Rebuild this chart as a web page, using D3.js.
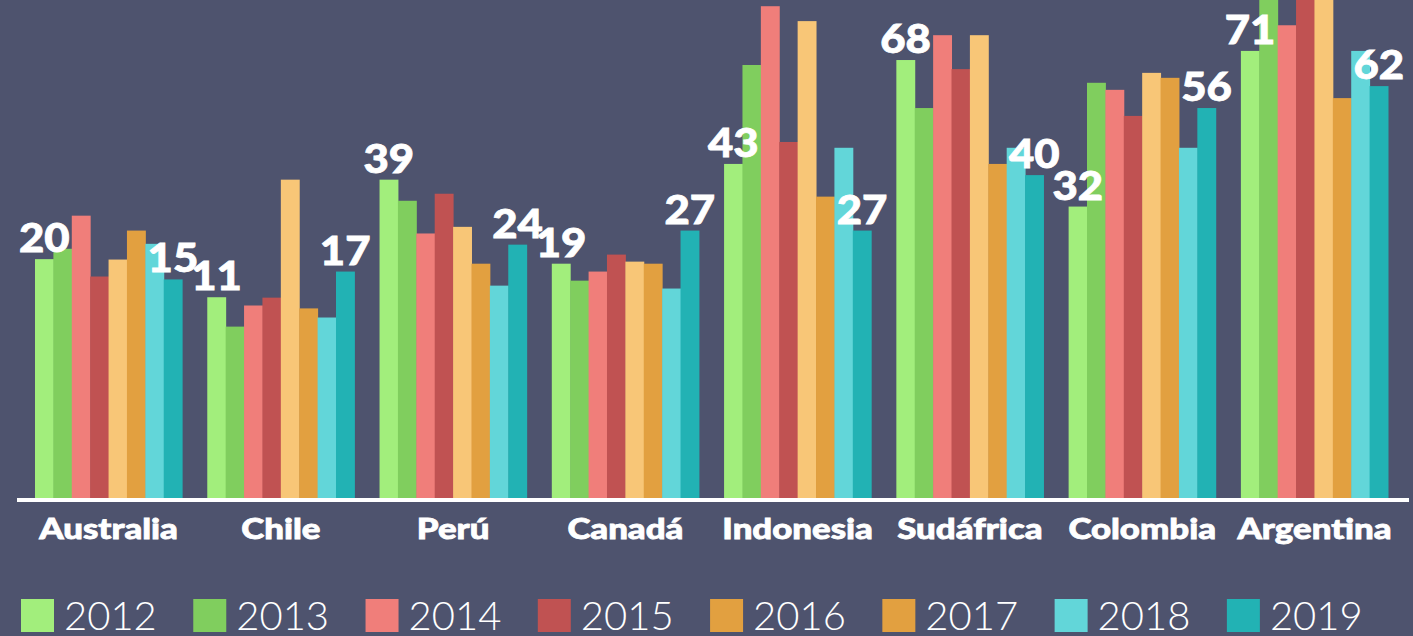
<!DOCTYPE html>
<html>
<head>
<meta charset="utf-8">
<script src="https://cdn.jsdelivr.net/npm/d3@7"></script>
<style>
  html, body { margin: 0; padding: 0; background: #4e536e; overflow: hidden; }
  svg { display: block; }
</style>
</head>
<body>
<script>
//// DATA

const countries = ["Australia", "Chile", "Perú", "Canadá", "Indonesia", "Sudáfrica", "Colombia", "Argentina"]
const years = ["2012", "2013", "2014", "2015", "2016", "2017", "2018", "2019"]

// bar heights, one array per country (2012..2019)
const australia = [20, 22.5, 30.5, 15.8, 19.9, 26.9, 23.7, 15.1]
const chile     = [10.8, 3.7, 8.8, 10.7, 39.2, 8.1, 5.9, 17]
const peru      = [39.2, 34.1, 26.2, 35.8, 27.8, 18.9, 13.6, 23.5]
const canada    = [18.9, 14.8, 17, 21.1, 19.4, 18.9, 12.9, 26.9]
const indonesia = [43, 66.9, 81.1, 48.3, 77.5, 35.1, 46.9, 26.9]
const sudafrica = [68.1, 56.5, 74.1, 65.9, 74.1, 43, 46.9, 40.3]
const colombia  = [32.7, 62.6, 60.9, 54.6, 65, 63.8, 46.9, 56.5]
const argentina = [70.3, 88, 76.5, 87, 86, 58.9, 70.3, 61.8]

// numbers printed over the first and last bar of each group
const firstLabels = [20, 11, 39, 19, 43, 68, 32, 71]
const lastLabels  = [15, 17, 24, 27, 27, 40, 56, 62]

const barColors    = ["#a2ee7c", "#80ce5e", "#f07e7a", "#c05252", "#f8c677", "#e2a040", "#62d6d9", "#22b2b4"]
// the legend uses the darker orange for both 2016 and 2017
const legendColors = ["#a2ee7c", "#80ce5e", "#f07e7a", "#c05252", "#e2a040", "#e2a040", "#62d6d9", "#22b2b4"]

const values = [australia, chile, peru, canada, indonesia, sudafrica, colombia, argentina]

//// LAYOUT

const width = 1413
const height = 636
const baseY = 498

// the original uses a wide black typeface, so stretch the bold one a bit
const heavyFont = "Lato, 'Open Sans', sans-serif"

const svg = d3.select("body").append("svg")
  .attr("width", width)
  .attr("height", height)

svg.append("rect")
  .attr("width", width)
  .attr("height", height)
  .attr("fill", "#4e536e")

// groups of bars
const x0 = d3.scaleBand()
  .domain(countries)
  .range([35, 1388])
  .paddingInner(0.146)
  .paddingOuter(0)

const x1 = d3.scaleBand()
  .domain(years)
  .range([0, x0.bandwidth()])

// the picture's value axis does not start at zero
const y = d3.scaleLinear()
  .domain([-37.7, 82.6])
  .range([baseY, 0])

const groups = svg.selectAll(".group")
  .data(countries)
  .join("g")
  .attr("class", "group")
  .attr("transform", c => `translate(${x0(c)},0)`)

groups.selectAll("rect")
  .data((c, i) => values[i].map((v, j) => ({year: years[j], value: v, color: barColors[j]})))
  .join("rect")
  .attr("x", d => x1(d.year))
  .attr("y", d => y(d.value))
  .attr("width", x1.bandwidth() + 0.5)
  .attr("height", d => baseY - y(d.value))
  .attr("fill", d => d.color)

// value labels on first and last bar
const labelData = []
countries.forEach((c, i) => {
  labelData.push({country: c, year: years[0], text: firstLabels[i], value: values[i][0]})
  labelData.push({country: c, year: years[7], text: lastLabels[i], value: values[i][7]})
})

svg.selectAll(".value-label")
  .data(labelData)
  .join("text")
  .attr("class", "value-label")
  .attr("transform", d => `translate(${x0(d.country) + x1(d.year) + x1.bandwidth() / 2},${y(d.value) - 7}) scale(1.12,1)`)
  .attr("text-anchor", "middle")
  .attr("fill", "#ffffff")
  .attr("stroke", "#ffffff")
  .attr("stroke-width", 0.8)
  .style("font-family", heavyFont)
  .style("font-weight", 900)
  .style("font-size", "39px")
  .text(d => d.text)

// baseline
svg.append("rect")
  .attr("x", 17)
  .attr("y", baseY)
  .attr("width", 1392)
  .attr("height", 4)
  .attr("fill", "#ffffff")

// country names
svg.selectAll(".country")
  .data(countries)
  .join("text")
  .attr("class", "country")
  .attr("transform", c => `translate(${x0(c) + x0.bandwidth() / 2},539) scale(1.2,1)`)
  .attr("text-anchor", "middle")
  .attr("fill", "#ffffff")
  .attr("stroke", "#ffffff")
  .attr("stroke-width", 0.8)
  .style("font-family", heavyFont)
  .style("font-weight", 900)
  .style("font-size", "29px")
  .text(c => c)

// legend
const legend = svg.selectAll(".legend")
  .data(years)
  .join("g")
  .attr("class", "legend")
  .attr("transform", (yr, i) => `translate(${x0(countries[i]) - 14},599)`)

legend.append("rect")
  .attr("width", 33)
  .attr("height", 33)
  .attr("fill", (yr, i) => legendColors[i])

legend.append("text")
  .attr("x", 43)
  .attr("y", 31)
  .attr("fill", "#ffffff")
  .style("font-family", "Lato, 'Open Sans', sans-serif")
  .style("font-weight", 300)
  .style("font-size", "40px")
  .text(yr => yr)
</script>
</body>
</html>
